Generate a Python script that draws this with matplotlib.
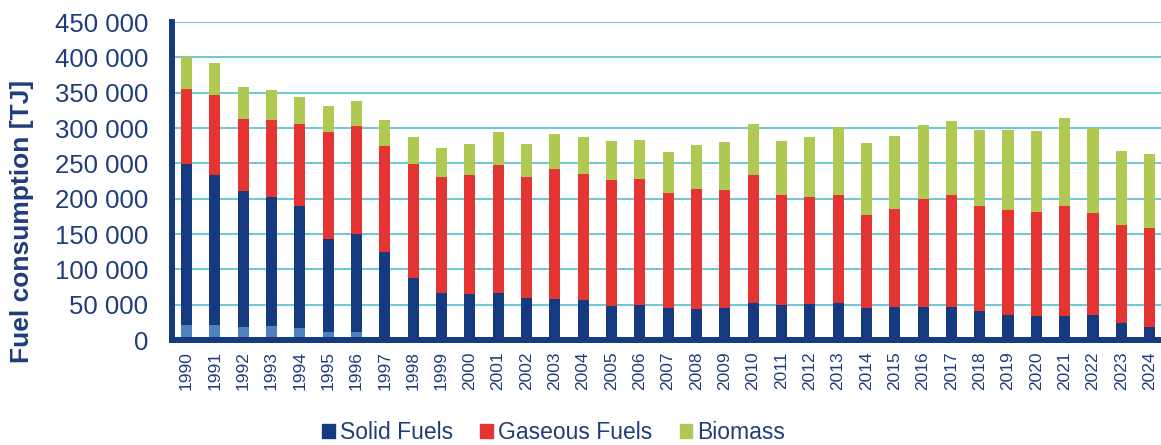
import matplotlib
matplotlib.use("Agg")
import matplotlib.pyplot as plt
import numpy as np
from matplotlib.patches import Patch

plt.rcParams['font.family'] = ['Liberation Sans', 'DejaVu Sans']

years = [str(y) for y in range(1990, 2025)]

# bottom light-blue part of the solid fuel bars (early years only)
solid_light = [21000, 21000, 19000, 20000, 17000, 11000, 11000, 3000] + [0] * 27
solid = [228000, 213000, 192000, 182000, 172000, 132000, 138500, 121500,
         88000, 67000, 65000, 66000, 59000, 58000, 56500, 48000, 49500,
         45500, 43500, 45000, 52000, 49500, 50500, 52500, 45000, 46000,
         46000, 47000, 41000, 35000, 34500, 33500, 36000, 24500, 19000]
gaseous = [106000, 112000, 102000, 110000, 117000, 152000, 153000, 150500,
           161000, 163500, 169000, 181500, 171000, 183500, 179000, 179000,
           178500, 162000, 170500, 167000, 181500, 155500, 152000, 152500,
           132500, 140000, 153500, 158000, 149000, 149500, 147000, 156000,
           144000, 138000, 139500]
biomass = [46000, 45500, 44500, 42000, 37500, 35500, 36000, 37000, 38500,
           40500, 43500, 46500, 48000, 50000, 51500, 54000, 54500, 58000,
           62000, 68500, 72000, 77000, 84500, 96000, 101500, 102000, 105000,
           105500, 106500, 112500, 114000, 124500, 120000, 104500, 104500]

c_light = '#4f81bd'
c_solid = '#153a7f'
c_gas = '#e53532'
c_bio = '#afc952'
c_text = '#1f3d7a'

fig = plt.figure(figsize=(11.61, 4.45), dpi=100)
ax = fig.add_axes([172 / 1161, 1 - 340 / 445, 1 - 172 / 1161, (340 - 22) / 445])

x = np.arange(len(years))
w = 0.39
b1 = np.array(solid_light)
b2 = b1 + np.array(solid)
b3 = b2 + np.array(gaseous)
ax.bar(x, solid_light, w, color=c_light, zorder=3)
ax.bar(x, solid, w, bottom=b1, color=c_solid, zorder=3)
ax.bar(x, gaseous, w, bottom=b2, color=c_gas, zorder=3)
ax.bar(x, biomass, w, bottom=b3, color=c_bio, zorder=3)

ax.set_xlim(-0.51, 34.4)
ax.set_ylim(0, 450000)
ax.set_yticks(np.arange(0, 450001, 50000))
ax.set_yticklabels(['0' if v == 0 else f'{v // 1000} 000' for v in range(0, 450001, 50000)])
ax.set_xticks(x)
ax.set_xticklabels(years, rotation=90)
ax.tick_params(axis='y', length=0, pad=17, labelsize=18.5, labelcolor=c_text)
ax.tick_params(axis='x', length=0, pad=8, labelsize=12.5, labelcolor=c_text)

ax.grid(axis='y', color='#74c7d6', linewidth=1.5, zorder=0)
ax.set_axisbelow(True)
for s in ['top', 'right']:
    ax.spines[s].set_visible(False)
for s in ['left', 'bottom']:
    ax.spines[s].set_color(c_solid)
    ax.spines[s].set_linewidth(4.3)
    ax.spines[s].set_zorder(4)

fig.text(21.7 / 1161, 1 - 221 / 445, 'Fuel consumption [TJ]', rotation=90,
         ha='center', va='center', fontsize=19, fontweight='bold', color=c_text)

handles = [Patch(color=c_solid, label='Solid Fuels'),
           Patch(color=c_gas, label='Gaseous Fuels'),
           Patch(color=c_bio, label='Biomass')]
leg = fig.legend(handles=handles, loc='center', bbox_to_anchor=(0.477, 0.027),
                 ncol=3, frameon=False, fontsize=16.5, handlelength=0.55,
                 handleheight=0.55, handletextpad=0.22, columnspacing=1.2,
                 borderpad=0, borderaxespad=0)
for t in leg.get_texts():
    t.set_color(c_text)

fig.savefig('out.png', dpi=100)
